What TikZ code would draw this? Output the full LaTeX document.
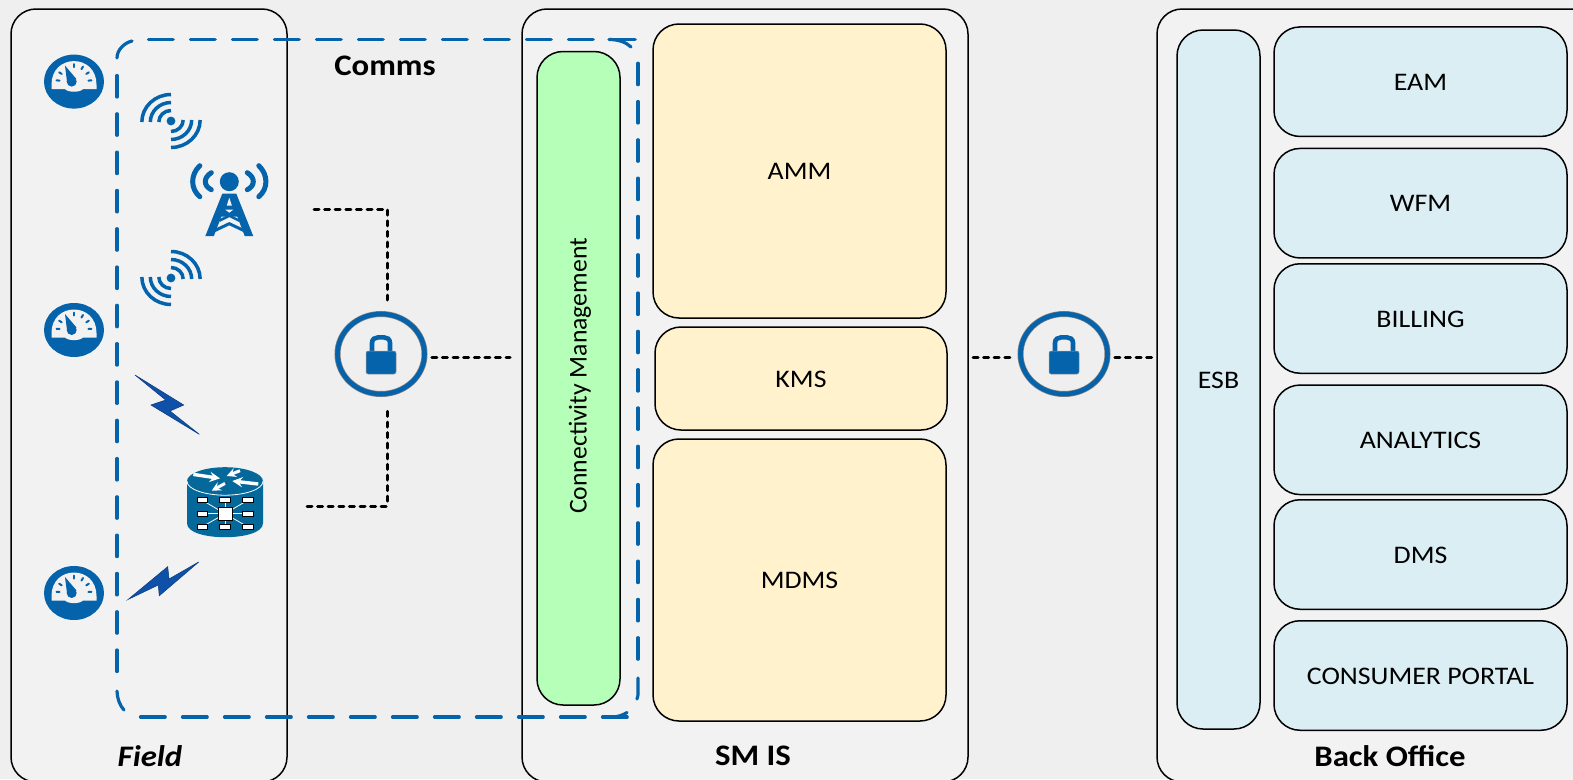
\documentclass[tikz,border=0pt]{standalone}
\usepackage{fontspec}
\setmainfont[FakeStretch=1.1]{Carlito}
\newfontfamily\uprightfont{Carlito}
\usetikzlibrary{shapes.geometric}

\definecolor{bgcolor}{HTML}{EFEFEF}
\definecolor{panelcolor}{HTML}{F2F2F2}
\definecolor{iconblue}{HTML}{0563AB}
\definecolor{routerblue}{HTML}{05689A}
\definecolor{boltblue}{HTML}{0F50A8}
\definecolor{connectgreen}{HTML}{B6FFB8}
\definecolor{smyellow}{HTML}{FFF2CC}
\definecolor{officeblue}{HTML}{DAEEF3}

\tikzset{
    panelbox/.style={draw=black, fill=panelcolor, line width=1.5pt, rounded corners=25pt, inner sep=0pt},
    modulebox/.style={draw=black, line width=1.5pt, rounded corners=26pt, inner sep=0pt, text height=17.5pt, text depth=0pt, font=\fontsize{25.3}{27}\selectfont},
    panellabel/.style={font=\fontsize{29.8}{32}\selectfont\bfseries, inner sep=0pt},
    commsline/.style={draw=iconblue, line width=3.2pt, line cap=round},
    linkline/.style={draw=black, line width=3pt, line cap=round, dash pattern=on 5pt off 5.6pt},
    lockring/.style={ellipse, draw=gray, line width=.7pt, double=iconblue, double distance=4.6pt, minimum width=87pt, minimum height=80pt, inner sep=0pt},
    gaugeicon/.pic={
        \fill[iconblue] (0,0) ellipse (30 and 27);
        \fill[panelcolor] (-22.5,7.5) -- (-22.5,3) .. controls (-22.5,-12) and (-12,-20.5) .. (0,-20.5)
            .. controls (12,-20.5) and (22.5,-12) .. (22.5,3) -- (22.5,7.5) -- (9,7.5)
            .. controls (6,11) and (-6,11) .. (-9,7.5) -- cycle;
        \foreach \a in {-176,-148,-90,-59,-32,-4}
            \draw[iconblue, line width=2pt, line cap=round] (\a:14.5) -- (\a:17.5);
        \fill[iconblue] (-9,-16) -- (-7,0) -- (2.5,-2.5) -- cycle;
        \fill[iconblue] (-2.3,0) circle (5);
    },
    waveicon/.pic={
        \fill[iconblue] (0,0) circle (4.4);
        \foreach \r in {11.5,19.5,27.5} {
            \draw[iconblue, line width=3.5pt] (-1.06*\r,1) arc[start angle=180, end angle=270, x radius=1.06*\r, y radius=\r] ++(1.5,0);
            \draw[iconblue, line width=3.5pt] (1.06*\r,-1) arc[start angle=0, end angle=90, x radius=1.06*\r, y radius=\r] ++(-1.5,0);
        }
    },
    towericon/.pic={
        \fill[iconblue] (0,0) circle (9.5);
        \draw[iconblue, line width=5pt, line cap=round] (-29.5,-16) .. controls (-39,-7) and (-39,7) .. (-29.5,15);
        \draw[iconblue, line width=5pt, line cap=round] (29.5,-16) .. controls (39,-7) and (39,7) .. (29.5,15);
        \draw[iconblue, line width=5pt, line cap=round] (-18,-9) .. controls (-26,-4) and (-26,4) .. (-18,8);
        \draw[iconblue, line width=5pt, line cap=round] (18,-9) .. controls (26,-4) and (26,4) .. (18,8);
        \fill[iconblue] (-7,12) -- (7,12) -- (24,54.5) -- (15.5,54.5) -- (8,35) -- (-8,35) -- (-15.5,54.5) -- (-24,54.5) -- cycle;
        \draw[iconblue, line width=2.5pt] (-10,29) -- (10,39) (10,29) -- (-10,39);
        \draw[iconblue, line width=3pt] (-17,50) -- (0,42) -- (17,50);
        \fill[panelcolor] (0,16) -- (2.6,24) -- (-2.6,24) -- cycle;
        \fill[panelcolor] (-4,28) -- (4,28) -- (0,31) -- cycle;
    },
    routericon/.pic={
        \fill[routerblue] (-38,-32.5) -- (-38,9.5) .. controls (-38,19) and (-19,23.5) .. (0,23.5)
            .. controls (19,23.5) and (38,19) .. (38,9.5) -- (38,-32.5) -- cycle;
        \fill[routerblue] (0,-32.5) ellipse (38 and 14);
        \draw[white, line width=.8pt] (-38,-32.5) .. controls (-38,-24) and (-19,-18.5) .. (0,-18.5)
            .. controls (19,-18.5) and (38,-24) .. (38,-32.5);
        \draw[white, line width=3.4pt, -stealth] (-31.7,-39.3) -- (-5,-35.3);
        \draw[white, line width=3pt, -stealth] (15,-43) -- (1.7,-37.7);
        \draw[white, line width=3pt, -stealth] (0,-30.3) -- (-13.3,-23);
        \draw[white, line width=3.4pt, -stealth] (33.3,-29.7) -- (7.3,-32.7);
        \foreach \x/\y in {-22.7/-13.5, 0/-13.5, 22.7/-13.5, -22.7/0, 22.7/0, -22.7/13, 0/13, 22.7/13} {
            \draw[white, line width=.8pt] (0,0) -- (\x,\y);
            \filldraw[draw=black, fill=white, line width=.7pt] (\x-5.3,\y-2.6) rectangle (\x+5.3,\y+2.6);
        }
        \filldraw[draw=black, fill=white, line width=.5pt] (-7,-6.5) rectangle (7,6.5);
    },
    lockicon/.pic={
        \draw[iconblue, line width=4.6pt] (-9,-2) -- (-9,-11) .. controls (-9,-15) and (-6,-16.6) .. (-3,-16.6) -- (3,-16.6)
            .. controls (6,-16.6) and (9,-15) .. (9,-11) -- (9,-2);
        \filldraw[draw=gray!80, fill=iconblue, line width=.5pt, rounded corners=2pt] (-15,-3) rectangle (15,20);
    }
}

\begin{document}
\begin{tikzpicture}[x=1pt, y=-1pt]
    \useasboundingbox (0,0) rectangle (1573,779);
    \fill[bgcolor] (0,0) rectangle (1573,779);

    \node[panelbox, minimum width=276pt, minimum height=773pt] (fieldPanel) at (149,395.5) {};
    \node[panelbox, minimum width=446pt, minimum height=773pt] (smPanel) at (745,395.5) {};
    \node[panelbox, minimum width=440pt, minimum height=773pt] (officePanel) at (1377,395.5) {};

    \node[panellabel, font=\fontsize{29.8}{32}\selectfont\bfseries\itshape] (fieldLabel) at (150,756) {Field};
    \node[panellabel] (smLabel) at (753,756) {SM IS};
    \node[panellabel] (officeLabel) at (1390,756) {Back Office};
    \node[panellabel] (commsLabel) at (385,66) {Comms};

    \node[modulebox, fill=connectgreen, minimum width=83pt, minimum height=653.5pt] (connectBox) at (578.5,378.25) {};
    \node[rotate=90, inner sep=0pt, font=\uprightfont\fontsize{25.7}{27}\selectfont] (connectLabel) at (580,376) {Connectivity Management};

    \node[modulebox, fill=smyellow, minimum width=293pt, minimum height=294pt] (ammBox) at (799.5,171) {AMM};
    \node[modulebox, fill=smyellow, minimum width=292pt, minimum height=103pt] (kmsBox) at (801,378.5) {KMS};
    \node[modulebox, fill=smyellow, minimum width=293pt, minimum height=282pt] (mdmsBox) at (799.5,580) {MDMS};

    \node[modulebox, fill=officeblue, minimum width=83pt, minimum height=699pt] (esbBox) at (1218.5,379.5) {ESB};
    \node[modulebox, fill=officeblue, minimum width=293pt, minimum height=109.5pt] (eamBox) at (1420.5,81.7) {EAM};
    \node[modulebox, fill=officeblue, minimum width=293pt, minimum height=109.5pt] (wfmBox) at (1420.5,203.2) {WFM};
    \node[modulebox, fill=officeblue, minimum width=293pt, minimum height=109.5pt] (billingBox) at (1420.5,318.5) {BILLING};
    \node[modulebox, fill=officeblue, minimum width=293pt, minimum height=109.5pt] (analyticsBox) at (1420.5,439.8) {ANALYTICS};
    \node[modulebox, fill=officeblue, minimum width=293pt, minimum height=109.5pt] (dmsBox) at (1420.5,554.5) {DMS};
    \node[modulebox, fill=officeblue, minimum width=293pt, minimum height=109.5pt] (portalBox) at (1420.5,675.5) {CONSUMER PORTAL};

    \foreach \x in {0,...,11}
        \draw[commsline] (148.5+42*\x,39.5) -- (173.2+42*\x,39.5);
    \foreach \x in {0,...,11}
        \draw[commsline] (140.5+42*\x,717) -- (165.2+42*\x,717);
    \foreach \y in {0,...,15}
        \draw[commsline] (117,75.5+38.3*\y) -- (117,97+38.3*\y);
    \foreach \y in {0,...,15}
        \draw[commsline] (638,63.2+38.3*\y) -- (638,84.7+38.3*\y);
    \draw[commsline] (117,58) .. controls (117,50) and (124,43) .. (132,41);
    \draw[commsline] (609,39.5) .. controls (618,39.5) and (626,42) .. (631,47);
    \draw[commsline] (638,678) -- (638,690) .. controls (638,695) and (638,697) .. (637,699);
    \draw[commsline] (604,717) -- (612,717) .. controls (618,717) and (623,715) .. (627,712.5);
    \draw[commsline] (117,691) .. controls (117,698) and (120,706) .. (124,710);

    \pic (gaugeA) at (74,81.6) {gaugeicon};
    \pic (gaugeB) at (74,330) {gaugeicon};
    \pic (gaugeC) at (74,593) {gaugeicon};
    \pic (waveA) at (171,121) {waveicon};
    \pic[yscale=-1] (waveB) at (171,278) {waveicon};
    \pic (towerA) at (229.3,181.7) {towericon};
    \pic (routerA) at (225,513.7) {routericon};

    \filldraw[draw=boltblue!80!black, fill=boltblue, line width=.6pt] (135,375) -- (183.7,405) -- (170,411)
        -- (199.3,434.3) -- (151,405) -- (165.7,400) -- cycle;
    \filldraw[draw=boltblue!80!black, fill=boltblue, line width=.6pt] (128.3,599.3) -- (167.7,566.7) -- (169,579)
        -- (198.7,562) -- (159.3,595.7) -- (158.3,585) -- cycle;

    \node[lockring] (lockA) at (381,354) {};
    \node[lockring] (lockB) at (1064,354) {};
    \pic (lockIconA) at (381,354) {lockicon};
    \pic (lockIconB) at (1064,354) {lockicon};

    \coordinate (towerEnd) at (314,209);
    \coordinate (routerEnd) at (307,506);
    \coordinate (smEndA) at (510,357);
    \coordinate (smEndB) at (973,357);
    \coordinate (officeEnd) at (1154,357);

    \draw[linkline, shorten >=11pt] (towerEnd) -| ([xshift=6pt]lockA.north);
    \draw[linkline, shorten >=17pt] (routerEnd) -| ([xshift=6pt]lockA.south);
    \draw[linkline, shorten <=7pt] ([yshift=-3pt]lockA.east) -- (smEndA);
    \draw[linkline, shorten >=6pt] (smEndB) -- ([yshift=-3pt]lockB.west);
    \draw[linkline, shorten <=7pt] ([yshift=-3pt]lockB.east) -- (officeEnd);
\end{tikzpicture}
\end{document}
